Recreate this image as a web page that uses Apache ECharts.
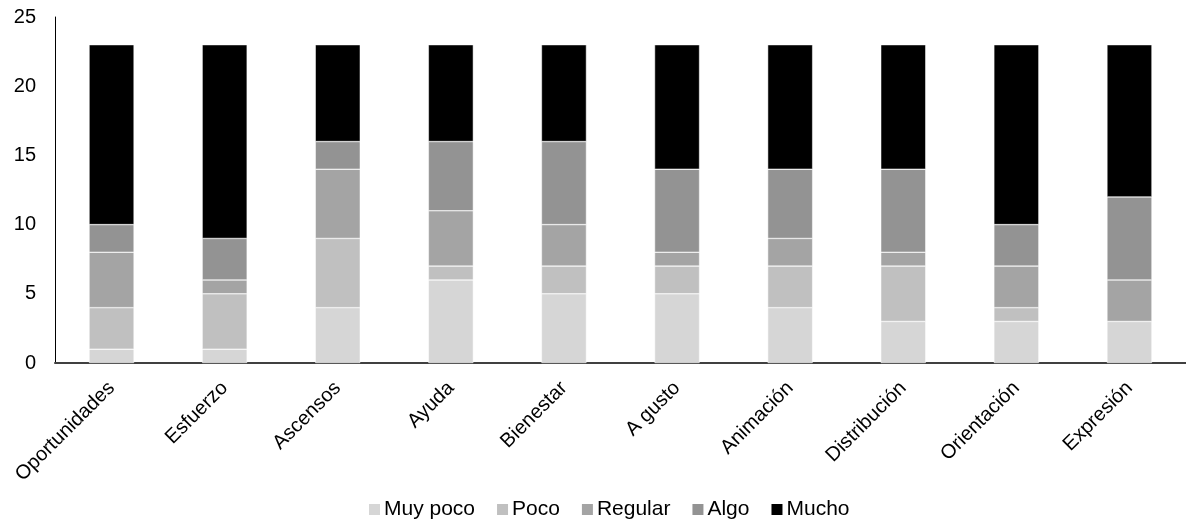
<!DOCTYPE html>
<html>
<head>
<meta charset="utf-8">
<script src="https://cdn.jsdelivr.net/npm/echarts@6/dist/echarts.min.js"></script>
<style>html,body{margin:0;padding:0;background:#fff}#c{width:1186px;height:527px}</style>
</head>
<body>
<div id="c"></div>
<script>
const categories = ['Oportunidades','Esfuerzo','Ascensos','Ayuda','Bienestar','A gusto','Animación','Distribución','Orientación','Expresión'];
const muyPoco = [1,1,4,6,5,5,4,3,3,3];
const poco    = [3,4,5,1,2,2,3,4,1,0];
const regular = [4,1,5,4,3,1,2,1,3,3];
const algo    = [2,3,2,5,6,6,5,6,3,6];
const mucho   = [13,14,7,7,7,9,9,9,13,11];
const seriesNames = ['Muy poco','Poco','Regular','Algo','Mucho'];
const seriesColors = ['#d6d6d6','#c0c0c0','#a4a4a4','#939393','#000000'];
const yTicks = [0,5,10,15,20,25];

const dataSets = [muyPoco, poco, regular, algo, mucho];
const chart = echarts.init(document.getElementById('c'));
chart.setOption({
  animation: false,
  textStyle: {fontFamily: 'Liberation Sans, Arial, sans-serif'},
  grid: {left: 55, top: 17, width: 1139, bottom: 164, containLabel: false},
  legend: {
    bottom: 2, left: 362,
    itemWidth: 13, itemHeight: 13, itemGap: 20,
    icon: 'rect',
    textStyle: {fontSize: 21, color: '#000', padding: [0,0,0,-2]},
    data: seriesNames
  },
  xAxis: {
    type: 'category', data: categories,
    axisLine: {lineStyle: {color: '#404040', width: 2}},
    axisTick: {show: false},
    axisLabel: {rotate: 45, fontSize: 20, color: '#000', interval: 0, margin: 22}
  },
  yAxis: {
    type: 'value', min: yTicks[0], max: yTicks[yTicks.length-1], interval: 5,
    axisLine: {show: true, lineStyle: {color: '#000', width: 1}},
    axisTick: {show: false},
    splitLine: {show: false},
    axisLabel: {fontSize: 20, color: '#000', margin: 19}
  },
  series: seriesNames.map((n, i) => ({
    name: n, type: 'bar', stack: 'total', barWidth: 45,
    itemStyle: {color: seriesColors[i], borderColor: '#ffffff', borderWidth: 0.5},
    data: dataSets[i]
  }))
});
</script>
</body>
</html>
